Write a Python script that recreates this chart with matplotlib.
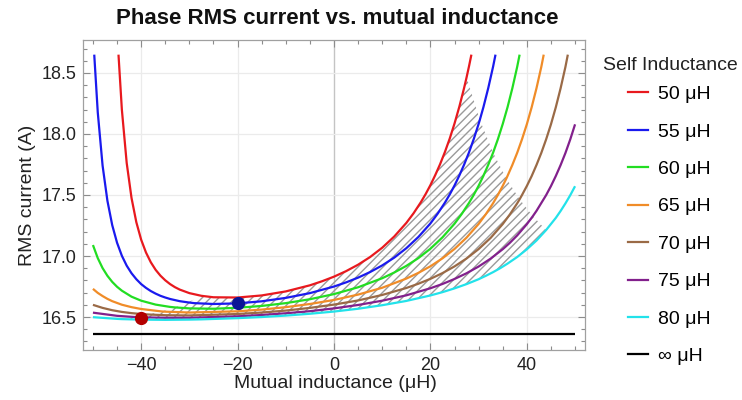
import matplotlib
matplotlib.use('Agg')
import matplotlib.pyplot as plt
from matplotlib.ticker import MultipleLocator, FormatStrFormatter
from matplotlib.lines import Line2D

plt.rcParams['font.family'] = ['Liberation Sans', 'DejaVu Sans']
plt.rcParams['hatch.linewidth'] = 1.0

# ---------------- data ----------------
self_inductances = ["50 μH", "55 μH", "60 μH", "65 μH", "70 μH", "75 μH", "80 μH", "∞ μH"]
colors = ["#e8191e", "#1a1aee", "#22dd22", "#f08c28", "#9a6a46", "#82208c", "#22e2ea", "#000000"]

m_50 = [-44.7, -44, -43, -42, -41, -40, -39, -38, -37, -36, -35, -34, -33, -32, -30, -27.5, -25, -20,
        -15, -10, -5, -2.5, 0, 2.5, 5, 7.5, 10, 12.5, 15, 16.5, 18, 19, 20, 21, 22, 23, 24, 25, 26, 27,
        27.5, 28, 28.5]
i_50 = [18.65, 18.199, 17.763, 17.476, 17.277, 17.134, 17.029, 16.949, 16.887, 16.839, 16.801, 16.770,
        16.745, 16.725, 16.696, 16.674, 16.662, 16.660, 16.677, 16.710, 16.760, 16.793, 16.831, 16.876,
        16.929, 16.992, 17.068, 17.160, 17.271, 17.350, 17.440, 17.507, 17.581, 17.663, 17.752, 17.852,
        17.962, 18.086, 18.224, 18.379, 18.464, 18.554, 18.65]

m_55 = [-49.73, -49, -48, -47, -46, -45, -44, -43, -42, -41, -40, -39, -38, -37, -36, -35, -34, -32,
        -30.25, -29, -25, -20, -15, -10, -5, 0, 2.5, 5, 7.5, 10, 12.5, 15, 17.5, 20, 21.5, 23, 24, 25, 26,
        27, 28, 29, 30, 30.25, 31, 32, 33, 33.5]
i_55 = [18.65, 18.177, 17.741, 17.453, 17.253, 17.109, 17.002, 16.921, 16.859, 16.810, 16.770, 16.739,
        16.713, 16.692, 16.674, 16.660, 16.648, 16.630, 16.620, 16.614, 16.607, 16.612, 16.629, 16.657,
        16.696, 16.750, 16.784, 16.823, 16.869, 16.923, 16.987, 17.064, 17.156, 17.267, 17.347, 17.437,
        17.504, 17.578, 17.660, 17.750, 17.849, 17.960, 18.083, 18.116, 18.221, 18.377, 18.552, 18.65]

m_60 = [-50, -49, -48, -47, -46, -45, -44, -42, -40, -37, -34, -33, -30, -25, -20, -15, -10, -5, 0, 5,
        10, 12.5, 15, 17.5, 20, 22.5, 25, 26.5, 28, 29, 30, 31, 32, 33, 34, 35, 36, 37, 38, 38.5]
i_60 = [17.090, 16.983, 16.901, 16.838, 16.788, 16.748, 16.716, 16.667, 16.634, 16.602, 16.583, 16.579,
        16.571, 16.568, 16.576, 16.591, 16.614, 16.646, 16.688, 16.744, 16.818, 16.865, 16.919, 16.983,
        17.060, 17.153, 17.265, 17.345, 17.435, 17.502, 17.576, 17.658, 17.748, 17.847, 17.958, 18.082,
        18.220, 18.376, 18.551, 18.65]

m_65 = [-50, -49, -48, -47, -46, -44, -42, -40, -35.75, -35, -30, -20, -15, -10, -5, 0, 5, 10, 15,
        17.5, 20, 22.5, 25, 27.5, 30, 31.5, 33, 34, 35, 35.75, 36, 37, 38, 39, 40, 41, 42, 43, 43.5]
i_65 = [16.731, 16.698, 16.672, 16.649, 16.630, 16.601, 16.581, 16.566, 16.546, 16.544, 16.537, 16.547,
        16.561, 16.581, 16.607, 16.640, 16.684, 16.740, 16.815, 16.862, 16.916, 16.981, 17.058, 17.151,
        17.263, 17.343, 17.433, 17.501, 17.575, 17.635, 17.657, 17.747, 17.846, 17.957, 18.080, 18.219,
        18.375, 18.550, 18.65]

m_70 = [-50, -48, -46, -44, -42, -40, -38.5, -35, -30, -20, -15, -10, -5, 0, 5, 10, 15, 17.5, 20,
        22.5, 25, 27.5, 30, 32.5, 35, 36.5, 38, 38.5, 39, 40, 41, 42, 43, 44, 45, 46, 47, 48, 48.5]
i_70 = [16.600, 16.575, 16.556, 16.542, 16.532, 16.525, 16.521, 16.515, 16.513, 16.525, 16.537, 16.553,
        16.575, 16.602, 16.636, 16.681, 16.738, 16.773, 16.813, 16.860, 16.915, 16.980, 17.057, 17.149,
        17.262, 17.342, 17.432, 17.465, 17.500, 17.574, 17.655, 17.746, 17.845, 17.956, 18.079, 18.218,
        18.374, 18.549, 18.65]

m_75 = [-50, -45, -41.25, -40, -35, -30, -20, -15, -10, -5, 0, 5, 10, 15, 20, 22.5, 25, 27.5, 30,
        32.5, 35, 36.5, 38, 40, 41.25, 42, 44, 45, 46, 47, 48, 49, 50]
i_75 = [16.536, 16.510, 16.500, 16.498, 16.494, 16.494, 16.506, 16.517, 16.531, 16.548, 16.571, 16.599,
        16.634, 16.678, 16.736, 16.771, 16.812, 16.859, 16.914, 16.979, 17.056, 17.109, 17.169, 17.261,
        17.327, 17.370, 17.499, 17.573, 17.655, 17.745, 17.844, 17.955, 18.079]

m_80 = [-50, -45, -44, -40, -35, -30, -27.5, -20, -15, -10, -5, 0, 5, 10, 15, 20, 22.5, 25, 27.5, 30,
        31.5, 33, 34.5, 36, 38, 40, 42, 44, 46, 47, 48, 49, 50]
i_80 = [16.499, 16.485, 16.483, 16.479, 16.477, 16.479, 16.481, 16.491, 16.500, 16.512, 16.527, 16.545,
        16.568, 16.597, 16.632, 16.677, 16.704, 16.735, 16.770, 16.810, 16.838, 16.868, 16.901, 16.938,
        16.992, 17.055, 17.127, 17.213, 17.312, 17.369, 17.431, 17.498, 17.572]

m_inf = [-50, 50]
i_inf = [16.36, 16.36]

# boundary of the hatched (allowed coupling) region
bound_left_m = [-44, -41.25, -38.5, -35.75, -33, -30.25, -27.5]
bound_left_i = [16.483, 16.500, 16.521, 16.546, 16.579, 16.620, 16.674]
bound_right_m = [27.5, 30.25, 33, 35.75, 38.5, 41.25, 44]
bound_right_i = [18.464, 18.116, 17.847, 17.635, 17.465, 17.327, 17.213]

# marked design points
dot_m = [-40, -20]
dot_i = [16.49, 16.612]
dot_colors = ["#b30000", "#0a1496"]

series_m = [m_50, m_55, m_60, m_65, m_70, m_75, m_80, m_inf]
series_i = [i_50, i_55, i_60, i_65, i_70, i_75, i_80, i_inf]

# ---------------- figure ----------------
fig = plt.figure(figsize=(7.42, 4.0), dpi=100)
ax = fig.add_axes([83.3 / 742, 50 / 400, 501.4 / 742, 310 / 400])

ax.set_xlim(-52, 52)
ax.set_ylim(16.23, 18.77)

# grid
for gx in [-40, -20, 20, 40]:
    ax.axvline(gx, color="#ebebeb", lw=0.9, zorder=0)
ax.axvline(0, color="#c4c4c4", lw=1.0, zorder=0)
for gy in [16.5, 17.0, 17.5, 18.0, 18.5]:
    ax.axhline(gy, color="#ebebeb", lw=0.9, zorder=0)

# hatched region
up_m = bound_left_m + [m for m in m_50 if -27.5 < m < 27.5] + bound_right_m
up_i = bound_left_i + [v for m, v in zip(m_50, i_50) if -27.5 < m < 27.5] + bound_right_i
lo = [(m, v) for m, v in zip(m_80, i_80) if -44 <= m <= 44][::-1]
poly_m = up_m + [p[0] for p in lo]
poly_i = up_i + [p[1] for p in lo]
ax.fill(poly_m, poly_i, facecolor="none", edgecolor="#9a9a9a", linewidth=0, hatch="////", zorder=1)

handles = []
for mm, ii, c in zip(series_m, series_i, colors):
    ax.plot(mm, ii, color=c, lw=1.6, zorder=3, solid_capstyle="butt", solid_joinstyle="round")
    handles.append(Line2D([], [], color=c, lw=1.6))

for m, v, c in zip(dot_m, dot_i, dot_colors):
    ax.plot([m], [v], "o", color=c, ms=8.5, zorder=4)

# ticks / frame
ax.xaxis.set_major_locator(MultipleLocator(20))
ax.xaxis.set_minor_locator(MultipleLocator(5))
ax.yaxis.set_major_locator(MultipleLocator(0.5))
ax.yaxis.set_minor_locator(MultipleLocator(0.1))
ax.yaxis.set_major_formatter(FormatStrFormatter("%.1f"))
ax.tick_params(which="both", direction="in", top=True, right=True, color="#8c8c8c", width=0.8,
               labelsize=13, labelcolor="#222222")
ax.tick_params(which="major", length=5, pad=5)
ax.tick_params(which="minor", length=3)
for sp in ax.spines.values():
    sp.set_color("#a0a0a0")
    sp.set_linewidth(0.9)

fig.text(0.455, 1 - 18 / 400, "Phase RMS current vs. mutual inductance", ha="center", va="center",
         fontsize=16, fontweight="bold", color="#111111")
fig.text(335 / 742, 1 - 384 / 400, "Mutual inductance (μH)", ha="center", va="center", fontsize=14,
         color="#222222")
fig.text(27 / 742, 1 - 195 / 400, "RMS current (A)", ha="center", va="center", rotation=90,
         fontsize=14, color="#222222")

fig.text(670 / 742, 1 - 65 / 400, "Self Inductance", ha="center", va="center", fontsize=14,
         color="#222222")
fig.legend(handles, self_inductances, loc="upper left",
           bbox_to_anchor=(628 / 742, 1 - 85.5 / 400), frameon=False, fontsize=14,
           handlelength=1.05, handletextpad=0.5, labelspacing=1.02, borderpad=0, borderaxespad=0)

fig.savefig("out.png", dpi=100)
